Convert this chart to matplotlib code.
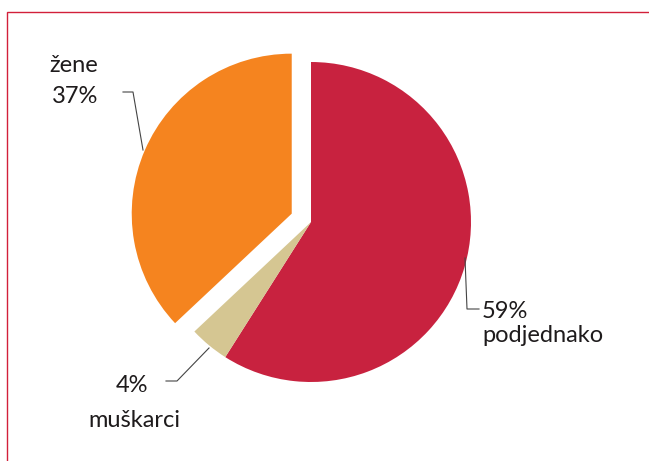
import matplotlib.pyplot as plt

# data
labels = ["podjednako", "muškarci", "žene"]
shares = [59, 4, 37]
colors = ["#C8223F", "#D5C692", "#F5841F"]
explode = [0, 0, 21]

W, H = 649, 461
TEXT = "#1E1B1C"


def py(y):
    # pixel row -> data y
    return H - y


fig = plt.figure(figsize=(W / 100, H / 100), dpi=100)
ax = fig.add_axes([0, 0, 1, 1])

ax.pie(shares, colors=colors, explode=explode, startangle=90, counterclock=False,
       center=(311, py(222)), radius=160, frame=True,
       wedgeprops={"linewidth": 0})
ax.set_xlim(0, W)
ax.set_ylim(0, H)
ax.set_aspect("equal")
ax.axis("off")

# red frame
ax.plot([7, 7, W + 5], [py(H + 5), py(12), py(12)], color="#D2203A", lw=1.0,
        solid_joinstyle="miter")

font = {"family": "Lato", "color": TEXT, "size": 17}

# žene
ax.text(98, py(72), "žene", ha="right", va="baseline", fontdict=font)
ax.text(98, py(103), f"{shares[2]}%", ha="right", va="baseline", fontdict=font)
ax.plot([123, 133, 143], [py(92), py(92), py(150)], color="#444444", lw=0.8)

# podjednako
ax.text(482, py(318), f"{shares[0]}%", ha="left", va="baseline", fontdict=font)
ax.text(482, py(342), labels[0], ha="left", va="baseline", fontdict=font)
ax.plot([465, 467, 479], [py(258), py(309), py(309)], color="#444444", lw=0.8)

# muškarci
ax.text(148, py(392), f"{shares[1]}%", ha="right", va="baseline", fontdict=font)
ax.text(134, py(427), labels[1], ha="center", va="baseline", fontdict=font)
ax.plot([209, 177, 166], [py(348), py(381), py(381)], color="#444444", lw=0.8)

plt.savefig("out.png", dpi=100)
plt.close()
